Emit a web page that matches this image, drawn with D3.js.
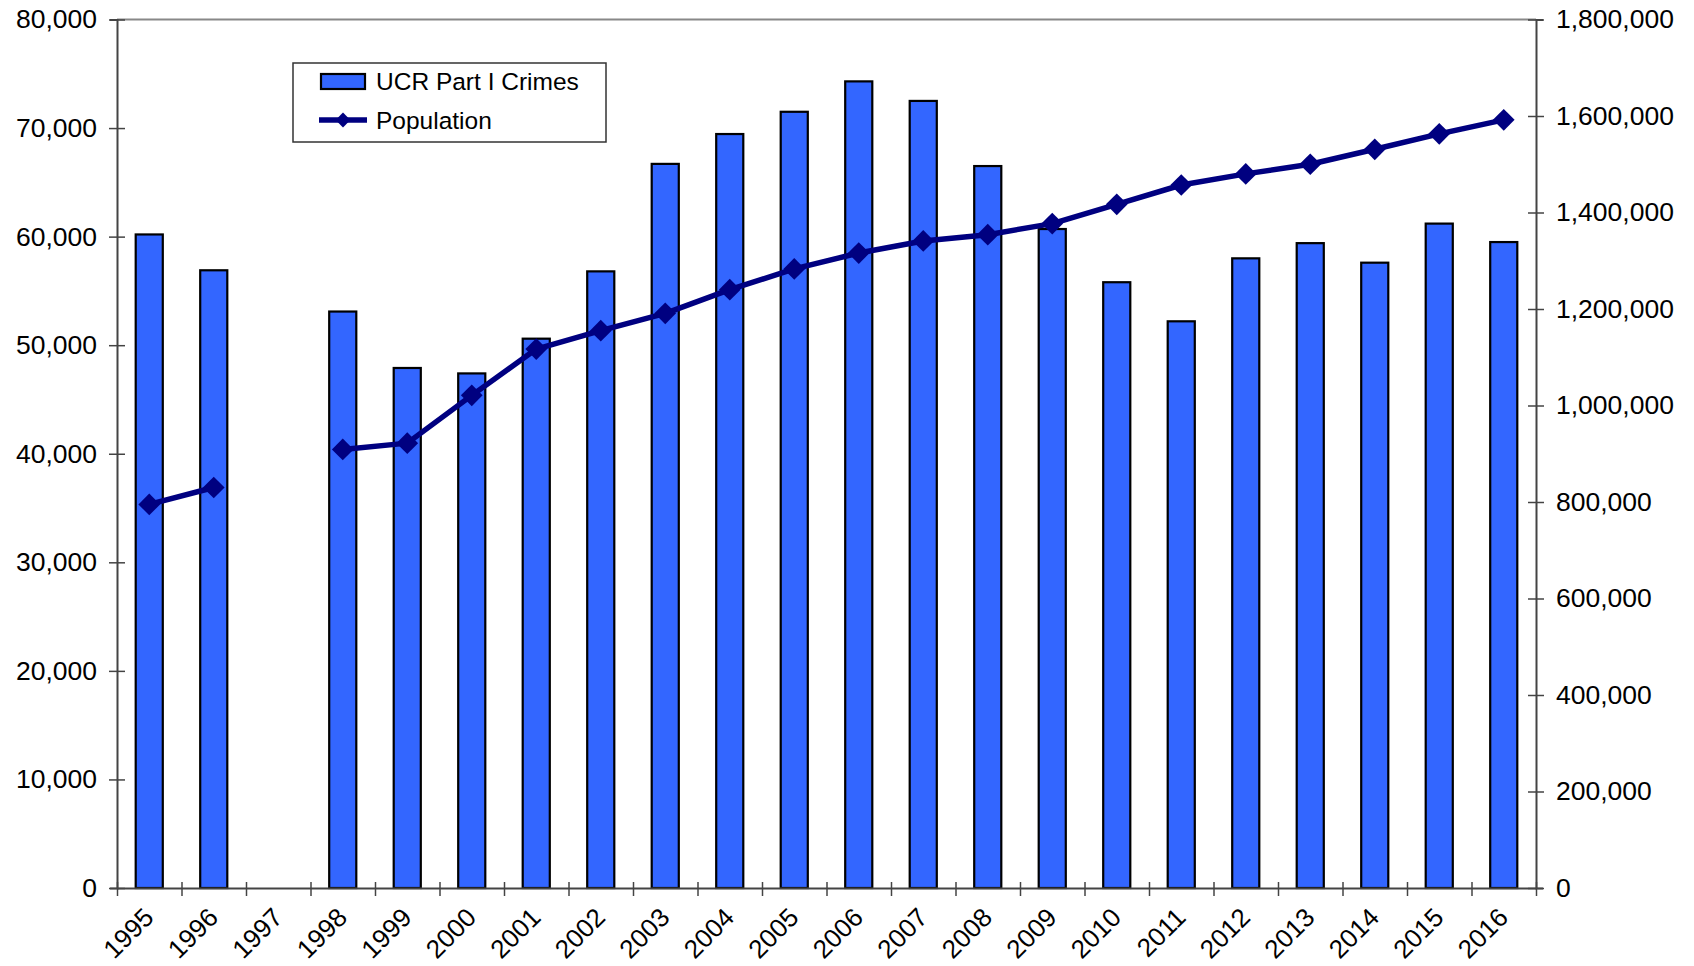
<!DOCTYPE html>
<html>
<head>
<meta charset="utf-8">
<script src="https://cdnjs.cloudflare.com/ajax/libs/d3/7.8.5/d3.min.js"></script>
<style>
  body { margin: 0; background: #fff; }
  text { font-family: "Liberation Sans", Arial, sans-serif; fill: #000; }
</style>
</head>
<body>
<svg id="chart" width="1694" height="966"></svg>
<script>
var years = ["1995","1996","1997","1998","1999","2000","2001","2002","2003","2004","2005",
             "2006","2007","2008","2009","2010","2011","2012","2013","2014","2015","2016"]
// UCR Part I crimes (left axis), 1997 missing
var crimes = [60200, 56900, null, 53100, 47900, 47400, 50600, 56800, 66700, 69450, 71500,
              74300, 72500, 66500, 60700, 55800, 52200, 58000, 59400, 57600, 61200, 59500]
// population (right axis)
var population = [795000, 830000, null, 909000, 922000, 1021000, 1117000, 1155000, 1191000, 1240000, 1283000,
                  1316000, 1341000, 1354000, 1377000, 1417000, 1457000, 1480000, 1500000, 1531000, 1563000, 1592000]
var leftTicks = [0,10000,20000,30000,40000,50000,60000,70000,80000]
var rightTicks = [0,200000,400000,600000,800000,1000000,1200000,1400000,1600000,1800000]

var svg = d3.select("#chart")
var m = {left: 117, right: 1536, top: 19.5, bottom: 888}

var x = d3.scaleBand().domain(years).range([m.left, m.right]).paddingInner(0.58).paddingOuter(0.29)
var xi = d3.scaleLinear().domain([0, years.length]).range([m.left, m.right]) // for tick marks
var yL = d3.scaleLinear().domain([0, 80000]).range([m.bottom, m.top])
var yR = d3.scaleLinear().domain([0, 1800000]).range([m.bottom, m.top])
var fmt = d3.format(",")

// top border of plot area
svg.append("line").attr("x1", m.left).attr("x2", m.right).attr("y1", m.top).attr("y2", m.top)
   .attr("stroke", "#888").attr("stroke-width", 2)

// bars
svg.append("g").selectAll("rect")
   .data(years.map(function(y, i){ return {year: y, v: crimes[i]} }).filter(function(d){ return d.v != null }))
   .enter().append("rect")
   .attr("x", function(d){ return x(d.year) })
   .attr("width", x.bandwidth())
   .attr("y", function(d){ return yL(d.v) })
   .attr("height", function(d){ return yL(0) - yL(d.v) })
   .attr("fill", "#3366FF").attr("stroke", "#000").attr("stroke-width", 2.2)

// left axis
var gl = svg.append("g").attr("transform", "translate(" + m.left + ",0)")
   .call(d3.axisLeft(yL).tickValues(leftTicks).tickFormat(fmt).tickSize(7).tickPadding(13))
gl.select(".domain").attr("stroke", "#444").attr("stroke-width", 2)
gl.selectAll(".tick line").attr("x2", -8).attr("x1", 8).attr("stroke", "#444").attr("stroke-width", 1.5)
gl.selectAll(".tick text").attr("font-size", 26.5).attr("font-family", "Liberation Sans, Arial")

// right axis
var gr = svg.append("g").attr("transform", "translate(" + m.right + ",0)")
   .call(d3.axisRight(yR).tickValues(rightTicks).tickFormat(fmt).tickSize(7).tickPadding(13))
gr.select(".domain").attr("stroke", "#444").attr("stroke-width", 2)
gr.selectAll(".tick line").attr("x1", -8).attr("x2", 8).attr("stroke", "#444").attr("stroke-width", 1.5)
gr.selectAll(".tick text").attr("font-size", 26.5).attr("font-family", "Liberation Sans, Arial")

// bottom axis, ticks between categories
var gb = svg.append("g").attr("transform", "translate(0," + m.bottom + ")")
   .call(d3.axisBottom(xi).tickValues(d3.range(years.length + 1)).tickFormat("").tickSizeOuter(0))
gb.select(".domain").attr("stroke", "#444").attr("stroke-width", 2)
gb.selectAll(".tick line").attr("y1", -6).attr("y2", 8).attr("stroke", "#444").attr("stroke-width", 1.5)

svg.append("g").selectAll("text").data(years).enter().append("text")
   .attr("transform", function(d){ return "translate(" + (x(d) + x.bandwidth() / 2 + 6) + "," + (m.bottom + 31) + ")rotate(-45)" })
   .attr("text-anchor", "end")
   .attr("font-size", 26)
   .text(function(d){ return d })

// population line
var pts = years.map(function(y, i){ return {year: y, v: population[i]} })
var line = d3.line()
   .defined(function(d){ return d.v != null })
   .x(function(d){ return x(d.year) + x.bandwidth() / 2 })
   .y(function(d){ return yR(d.v) })
svg.append("path").datum(pts).attr("d", line)
   .attr("fill", "none").attr("stroke", "#000080").attr("stroke-width", 5.5).attr("stroke-linejoin", "round")

var diamond = d3.symbol().type(d3.symbolDiamond2).size(300)
svg.append("g").selectAll("path").data(pts.filter(function(d){ return d.v != null })).enter().append("path")
   .attr("d", diamond)
   .attr("transform", function(d){ return "translate(" + (x(d.year) + x.bandwidth() / 2) + "," + yR(d.v) + ")" })
   .attr("fill", "#000080")

// legend
var lg = svg.append("g").attr("transform", "translate(293,63)")
lg.append("rect").attr("width", 313).attr("height", 79).attr("fill", "#fff").attr("stroke", "#333").attr("stroke-width", 1.5)
lg.append("rect").attr("x", 28).attr("y", 11).attr("width", 44).attr("height", 15)
   .attr("fill", "#3366FF").attr("stroke", "#000").attr("stroke-width", 2.2)
lg.append("text").attr("x", 83).attr("y", 27).attr("font-size", 24.5).text("UCR Part I Crimes")
lg.append("line").attr("x1", 26).attr("x2", 74).attr("y1", 57).attr("y2", 57)
   .attr("stroke", "#000080").attr("stroke-width", 5.5)
lg.append("path").attr("d", d3.symbol().type(d3.symbolDiamond2).size(140))
   .attr("transform", "translate(50,57)").attr("fill", "#000080")
lg.append("text").attr("x", 83).attr("y", 66).attr("font-size", 24.5).text("Population")
</script>
</body>
</html>
